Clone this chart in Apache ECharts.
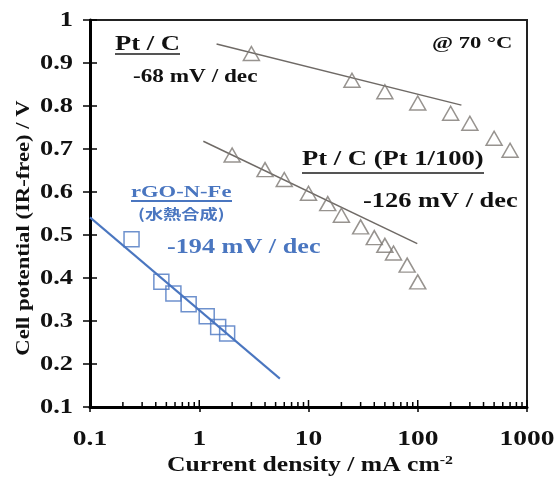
<!DOCTYPE html>
<html><head><meta charset="utf-8">
<script src="https://cdn.jsdelivr.net/npm/echarts@6/dist/echarts.min.js"></script>
<style>html,body{margin:0;padding:0;background:#fff}#c{width:556px;height:481px}</style>
</head><body><div id="c"></div>
<script>
// Pt/C
const ptcX = [3, 25, 50, 100, 200, 300, 500, 700];
const ptcY = [0.922, 0.860, 0.833, 0.807, 0.783, 0.760, 0.725, 0.697];
const ptcFitX = [1.44, 251];
const ptcFitY = [0.944, 0.802];
// Pt/C (Pt 1/100)
const pt100X = [2, 4, 6, 10, 15, 20, 30, 40, 50, 60, 80, 100];
const pt100Y = [0.686, 0.652, 0.629, 0.597, 0.573, 0.546, 0.519, 0.494, 0.476, 0.458, 0.430, 0.391];
const pt100FitX = [1.09, 99];
const pt100FitY = [0.718, 0.480];
// rGO-N-Fe
const rgoX = [0.24, 0.45, 0.58, 0.8, 1.17, 1.49, 1.8];
const rgoY = [0.490, 0.391, 0.364, 0.339, 0.311, 0.286, 0.271];
const rgoFitX = [0.1, 5.47];
const rgoFitY = [0.541, 0.166];
// axis ticks and tick labels
const xDecades = [0.1, 1, 10, 100, 1000];
const xTickLabels = ['0.1', '1', '10', '100', '1000'];
const xMinorMult = [2, 3, 4, 5, 6, 7, 8, 9];
const yTicks = [0.1, 0.2, 0.3, 0.4, 0.5, 0.6, 0.7, 0.8, 0.9, 1.0];
const yTickLabels = ['0.1', '0.2', '0.3', '0.4', '0.5', '0.6', '0.7', '0.8', '0.9', '1'];

const zip = (a, b) => a.map((v, i) => [v, b[i]]);
const BLUE = '#4a76c0';
const GRAY = '#6f6a66';
const TRI = '#7d7873';
const FONT = '"Liberation Serif", "Times New Roman", serif';
const SX = 1.3; // horizontal stretch of the reference's lettering

// inside tick marks (drawn through axis scales)
const tickData = [];
xDecades.forEach(d => tickData.push([d, 0.1, 7, 0]));
xDecades.slice(0, 4).forEach(d => xMinorMult.forEach(m => tickData.push([d * m, 0.1, 5, 0])));
yTicks.forEach(v => tickData.push([0.1, v, 7, 1]));

const chart = echarts.init(document.getElementById('c'), null, {renderer: 'canvas'});

function txt(x, y, s, size, color, sx, family) {
  return {type: 'text', x: x, y: y, z: 100, scaleX: sx || SX,
    style: {text: s, font: 'bold ' + size + 'px ' + (family || FONT), fill: color, textVerticalAlign: 'middle', textAlign: 'left'}};
}
function uline(x1, x2, y, color) {
  return {type: 'line', z: 100, shape: {x1: x1, y1: y, x2: x2, y2: y}, style: {stroke: color, lineWidth: 2}};
}

chart.setOption({
  animation: false,
  backgroundColor: '#fff',
  grid: {left: 90, right: 29, top: 20, bottom: 74, show: true, borderColor: '#222', borderWidth: 2},
  xAxis: {
    type: 'log', logBase: 10, min: 0.1, max: 1000,
    axisLine: {show: true, onZero: false, lineStyle: {color: '#000', width: 3}},
    axisTick: {show: true, inside: false, length: 5, lineStyle: {color: '#000', width: 1.5}},
    axisLabel: {show: false},
    splitLine: {show: false}, minorTick: {show: false}
  },
  yAxis: {
    type: 'value', min: 0.1, max: 1, interval: 0.1,
    axisLine: {show: true, onZero: false, lineStyle: {color: '#000', width: 3}},
    axisTick: {show: true, inside: false, length: 7, lineStyle: {color: '#000', width: 1.5}},
    axisLabel: {show: false},
    splitLine: {show: false}
  },
  series: [
    {type: 'line', data: zip(ptcFitX, ptcFitY), symbol: 'none', lineStyle: {color: GRAY, width: 1.5}, z: 2},
    {type: 'line', data: zip(pt100FitX, pt100FitY), symbol: 'none', lineStyle: {color: GRAY, width: 1.5}, z: 2},
    {type: 'line', data: zip(rgoFitX, rgoFitY), symbol: 'none', lineStyle: {color: BLUE, width: 2}, z: 2},
    {type: 'scatter', data: zip(ptcX, ptcY), symbol: 'triangle', symbolSize: [16, 14],
      itemStyle: {color: 'rgba(255,255,255,0)', borderColor: TRI, borderWidth: 1.5}, z: 3},
    {type: 'scatter', data: zip(pt100X, pt100Y), symbol: 'triangle', symbolSize: [16, 14],
      itemStyle: {color: 'rgba(255,255,255,0)', borderColor: TRI, borderWidth: 1.5}, z: 3},
    {type: 'scatter', data: zip(rgoX, rgoY), symbol: 'rect', symbolSize: 15,
      itemStyle: {color: 'rgba(255,255,255,0)', borderColor: BLUE, borderWidth: 1.5}, z: 3},
    {type: 'custom', data: tickData, clip: false, z: 5, silent: true,
      renderItem: function (params, api) {
        const p = api.coord([api.value(0), api.value(1)]);
        const len = api.value(2);
        const horiz = api.value(3) === 1;
        return {type: 'line',
          shape: horiz ? {x1: p[0], y1: p[1], x2: p[0] + len, y2: p[1]} : {x1: p[0], y1: p[1], x2: p[0], y2: p[1] - len},
          style: {stroke: '#000', lineWidth: 1.5}};
      }},
    // x tick labels
    {type: 'custom', data: xDecades.map(v => [v, 0.1]), clip: false, z: 5, silent: true,
      renderItem: function (params, api) {
        const p = api.coord([api.value(0), api.value(1)]);
        return {type: 'text', x: p[0], y: p[1] + 32, scaleX: 1.25,
          style: {text: xTickLabels[params.dataIndex], font: 'bold 22px ' + FONT, fill: '#111', textAlign: 'center', textVerticalAlign: 'middle'}};
      }},
    // y tick labels
    {type: 'custom', data: yTicks.map(v => [0.1, v]), clip: false, z: 5, silent: true,
      renderItem: function (params, api) {
        const p = api.coord([api.value(0), api.value(1)]);
        return {type: 'text', x: p[0] - 17, y: p[1], scaleX: 1.2,
          style: {text: yTickLabels[params.dataIndex], font: 'bold 22px ' + FONT, fill: '#111', textAlign: 'right', textVerticalAlign: 'middle'}};
      }}
  ],
  graphic: [
    // axis names
    {type: 'text', x: 310, y: 466, z: 100, scaleX: 1.22,
      style: {rich: {n: {font: 'bold 21px ' + FONT, fill: '#111'}, s: {font: 'bold 13px ' + FONT, fill: '#111', verticalAlign: 'top', padding: [0, 0, 10, 0]}},
        text: '{n|Current density / mA cm}{s|-2}', textAlign: 'center', textVerticalAlign: 'middle'}},
    {type: 'text', x: 24, y: 228, z: 100, rotation: Math.PI / 2, scaleX: 1.26,
      style: {text: 'Cell potential (IR-free) / V', font: 'bold 18px ' + FONT, fill: '#111', textAlign: 'center', textVerticalAlign: 'middle'}},
    // annotations
    txt(115, 45, 'Pt / C', 20, '#111', 1.33),
    uline(115, 180, 54, '#555'),
    txt(133, 77, '-68 mV / dec', 18, '#111', 1.29),
    txt(432, 44, '@ 70 °C', 17, '#111', 1.33),
    txt(302, 160, 'Pt / C (Pt 1/100)', 20, '#111', 1.33),
    uline(302, 484, 173, '#555'),
    txt(363, 202, '-126 mV / dec', 20, '#111', 1.32),
    txt(131, 193, 'rGO-N-Fe', 17, BLUE, 1.33),
    uline(131, 232, 201, BLUE),
    txt(138, 214, '(水熱合成)', 14, BLUE, 1.3, '"Noto Sans CJK JP", ' + FONT),
    txt(167, 248, '-194 mV / dec', 20, BLUE, 1.31)
  ]
});
</script></body></html>
